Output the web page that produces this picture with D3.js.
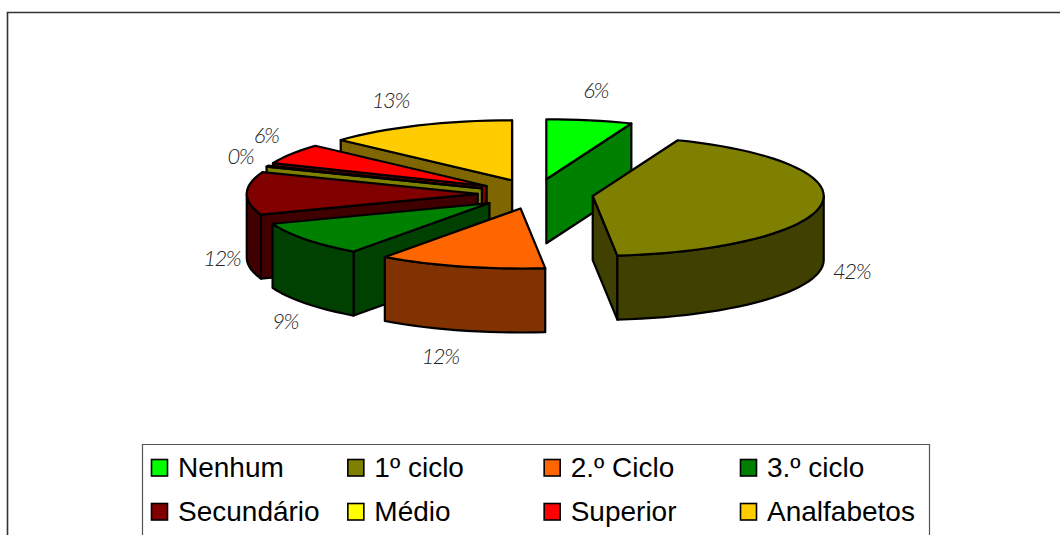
<!DOCTYPE html>
<html>
<head>
<meta charset="utf-8">
<script src="https://cdn.jsdelivr.net/npm/d3@7/dist/d3.min.js"></script>
<style>html,body{margin:0;padding:0;background:#fff;overflow:hidden}svg{display:block}</style>
</head>
<body>
<svg id="chart" width="1060" height="535"></svg>
<script>
const categories = ["Nenhum", "1º ciclo", "2.º Ciclo", "3.º ciclo", "Secundário", "Médio", "Superior", "Analfabetos"];
const values = [6.0, 42.3, 11.7, 9.4, 11.5, 0.3, 5.5, 13.3];
const percentLabels = ["6%", "42%", "12%", "9%", "12%", "0%", "6%", "13%"];
const colors = ["#00ff00", "#808000", "#ff6600", "#008000", "#800000", "#ffff00", "#ff0000", "#ffcc00"];

// layout
const W = 1060, H = 535;
const cx = 535.5, cy = 194, rx = 231, ry = 60, depth = 64, explode = 0.25;
const labelNudge = [[6,-30],[30,67],[-21,89.5],[-20,82],[-25,65],[-27,-10],[-25,-19],[-28,-25]];

const svg = d3.select("#chart");
svg.append("path").attr("d", d3.line()([[7.5,H],[7.5,12.5],[W,12.5]]))
  .attr("fill","none").attr("stroke","#333").attr("stroke-width",1.6);

const pie = d3.pie().sort(null).startAngle(0).endAngle(2*Math.PI);
const arcs = pie(values).map((a,i)=>({...a, i, mid:(a.startAngle+a.endAngle)/2}));

const sx = d3.scaleLinear().domain([-1,1]).range([-rx,rx]);
const sy = d3.scaleLinear().domain([-1,1]).range([-ry,ry]);
const dark = c => { const r = d3.rgb(c); return d3.rgb(r.r/2, r.g/2, r.b/2).formatHex(); };
const line = d3.line();

function rimPts(a0, a1, ox, oy, dz){
  const n = Math.max(1, Math.ceil(Math.abs(a1-a0)/(Math.PI/60)));
  return d3.range(n+1).map(k=>{
    const a = a0 + (a1-a0)*k/n;
    return [ox+sx(Math.sin(a)), oy-sy(Math.cos(a))+dz];
  });
}

const g = svg.append("g").attr("stroke","#000").attr("stroke-width",2.2).attr("stroke-linejoin","round");

// back-to-front by how far forward each exploded slice sits
arcs.slice().sort((p,q)=>d3.ascending(-Math.cos(p.mid), -Math.cos(q.mid))).forEach(d=>{
  const ox = cx + explode*sx(Math.sin(d.mid));
  const oy = cy - explode*sy(Math.cos(d.mid));
  const top = colors[d.i], side = dark(top);
  const a0 = d.startAngle, a1 = d.endAngle;
  const edgeFace = a => {
    const p = [ox+sx(Math.sin(a)), oy-sy(Math.cos(a))];
    g.append("path").attr("fill",side)
      .attr("d", line([[ox,oy],p,[p[0],p[1]+depth],[ox,oy+depth]])+"Z");
  };
  if (Math.sin(a0) < 0) edgeFace(a0);
  if (Math.sin(a1) > 0) edgeFace(a1);
  const f0 = Math.max(a0, Math.PI/2), f1 = Math.min(a1, 3*Math.PI/2);
  if (f1 > f0) {
    const up = rimPts(f0,f1,ox,oy,0), down = rimPts(f1,f0,ox,oy,depth);
    g.append("path").attr("fill",side).attr("d", line(up.concat(down))+"Z");
  }
  g.append("path").attr("fill",top)
    .attr("d", line([[ox,oy]].concat(rimPts(a0,a1,ox,oy,0)))+"Z");
});

// percentage labels
svg.append("g").selectAll("text").data(arcs).join("text")
  .attr("x", d=>cx+1.25*sx(Math.sin(d.mid))+labelNudge[d.i][0])
  .attr("y", d=>cy-1.25*sy(Math.cos(d.mid))+labelNudge[d.i][1])
  .attr("dy","0.35em").attr("text-anchor","middle")
  .attr("font-family","Lato, 'Open Sans', sans-serif").attr("font-style","italic")
  .attr("font-weight",300).attr("font-size",22).attr("letter-spacing",-1.4).attr("fill","#222")
  .text(d=>percentLabels[d.i]);

// legend
svg.append("path").attr("d", d3.line()([[142.5,H],[142.5,444.5],[929.5,444.5],[929.5,H]]))
  .attr("fill","none").attr("stroke","#555").attr("stroke-width",1.2);
const col = d3.scaleLinear().domain([0,3]).range([151,740]);
const row = d3.scaleLinear().domain([0,1]).range([459,503]);
const items = svg.append("g").selectAll("g").data(categories).join("g")
  .attr("transform",(d,i)=>`translate(${col(i%4)},${row(Math.floor(i/4))})`);
items.append("rect").attr("x",0.5).attr("y",0.5).attr("width",16).attr("height",16.5)
  .attr("fill",(d,i)=>colors[i]).attr("stroke","#000").attr("stroke-width",1.6);
items.append("text").attr("x",27).attr("y",18).text(d=>d)
  .attr("font-family","'Liberation Sans', Arial, sans-serif").attr("font-size",28).attr("fill","#000");
</script>
</body>
</html>
